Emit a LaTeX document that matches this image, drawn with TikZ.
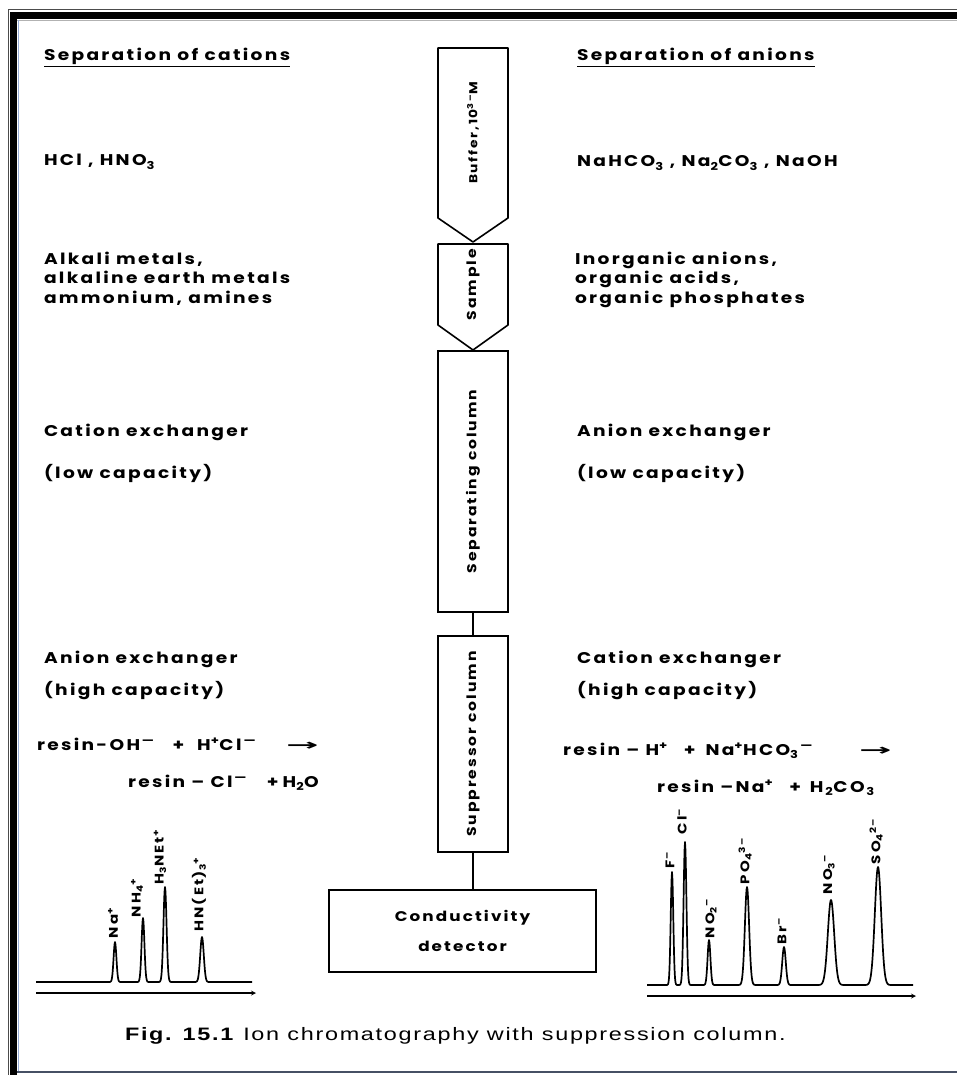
\documentclass[tikz,border=0pt]{standalone}
\usepackage{fontspec}
\setmainfont{Liberation Sans}
\newfontfamily\labfont{Poppins}[LetterSpace=15,FakeStretch=1.2]
\newfontfamily\capfont{Liberation Sans}[LetterSpace=9.5,FakeStretch=1.3]
\newfontfamily\arrfont{DejaVu Sans}[FakeStretch=1.8]
\newfontfamily\longarrfont{DejaVu Sans}[FakeStretch=2.5]
\newcommand{\yields}{{\arrfont\bfseries →}}
\newcommand{\longyields}{{\longarrfont\bfseries →}}
\usetikzlibrary{positioning,calc,arrows}
\definecolor{edgeblue}{RGB}{150,172,214}
\definecolor{slate}{RGB}{70,80,100}

\begin{document}
\begin{tikzpicture}
[
   x=1pt, y=-1pt,
   thick,
   declare function={pk(\px,\pc,\pw)=exp(-min(abs((\px-\pc)/\pw),6)^2);},
   every node/.style={inner sep=0pt, outer sep=0pt}
]

\tikzset{lab/.style = {font=\labfont\bfseries\fontsize{15.5}{19.5}\selectfont, anchor=base west, align=left}}
\tikzset{colbox/.style = {draw, line width=1.6pt, minimum width=70pt, font=\labfont\bfseries\fontsize{13}{15}\selectfont}}
\tikzset{pipe/.style = {line width=1.6pt, line join=round}}
\tikzset{peak/.style = {font=\labfont\bfseries\fontsize{12.5}{14}\selectfont, rotate=90, anchor=west}}
\tikzset{trace/.style = {line width=1.7pt, line join=round}}
\tikzset{axis/.style = {->, >=stealth, line width=1.2pt}}

\useasboundingbox (0,0) rectangle (957,1075);

% frame
\draw[line width=0.8pt, black!70] (957,9) -- (8,9) -- (8,1075);
\fill[black] (10,12) rectangle (957,19);
\fill[black] (10,12) rectangle (17,1075);
\draw[gray!60, line width=0.8pt] (17,20) -- (957,20);
\draw[edgeblue, line width=1.6pt] (18.5,20) -- (18.5,1071);
\draw[slate, line width=2pt] (17,1072) -- (957,1072);

% columns
\node[colbox, draw=none, minimum height=170pt, font=\labfont\bfseries\fontsize{11.5}{13}\selectfont] (buf) at (473,133) {\rotatebox{90}{Buffer,\,10\textsuperscript{3\textendash}M}};
\node[colbox, draw=none, minimum height=81pt] (smp) at (473,284.5) {\rotatebox{90}{Sample}};
\node[colbox, minimum height=261pt] (sep) at (473,481.5) {\rotatebox{90}{Separating column}};
\node[colbox, minimum height=216pt] (sup) at (473,744) {\rotatebox{90}{Suppressor column}};
\node[colbox, minimum width=267pt, minimum height=82pt, align=center,
      font=\labfont\bfseries\fontsize{14}{30}\selectfont] (det) at (462.5,931) {Conductivity\\detector};

\draw[pipe] (buf.north west) -- (buf.north east) -- (buf.south east)
   -- ([yshift=-24pt]buf.south) -- (buf.south west) -- cycle;
\draw[pipe] (smp.north west) -- (smp.north east) -- (smp.south east)
   -- ([yshift=-25pt]smp.south) -- (smp.south west) -- cycle;
\draw[pipe] (sep) -- (sup);
\draw[pipe] (sup.south) -- (sup.south |- det.north);

% cations
\node[lab] (ct) at (44,61) {\underline{Separation of cations}};
\node[lab] (ce) at (44,166) {HCl , HNO\textsubscript{3}};
\node[lab, anchor=north west] (cs) at (44,252) {Alkali metals,\\alkaline earth metals\\ammonium, amines};
\node[lab] (cx) at (44,436) {Cation exchanger};
\node[lab] (cx2) at (44,478) {(low capacity)};
\node[lab] (cy) at (44,663) {Anion exchanger};
\node[lab] (cy2) at (44,695) {(high capacity)};
\node[lab] (cr) at (37,750) {resin-OH\textsuperscript{\,\textemdash}\hspace{18pt}+\hspace{13pt}H\textsuperscript{+}C\,l\textsuperscript{\,\textemdash}\hspace{30pt}\longyields};
\node[lab] (cr2) at (128,787) {resin \textendash\ Cl\textsuperscript{\,\textemdash}\hspace{20pt}+\hspace{4pt}H\textsubscript{2}O};

% anions
\node[lab] (at) at (577,61) {\underline{Separation of anions}};
\node[lab] (ae) at (577,167) {NaHCO\textsubscript{3} , Na\textsubscript{2}CO\textsubscript{3} , NaOH};
\node[lab, anchor=north west] (as) at (575,252) {Inorganic anions,\\organic acids,\\organic phosphates};
\node[lab] (ax) at (577,436) {Anion exchanger};
\node[lab] (ax2) at (577,478) {(low capacity)};
\node[lab] (ay) at (577,663) {Cation exchanger};
\node[lab] (ay2) at (577,695) {(high capacity)};
\node[lab] (ar) at (563,755) {resin \textendash\ H\textsuperscript{+}\hspace{16pt}+\hspace{10pt}Na\textsuperscript{+}HCO\textsubscript{3}\textsuperscript{\,\textemdash}\hspace{46pt}\longyields};
\node[lab] (ar2) at (657,792) {resin \textendash Na\textsuperscript{+}\hspace{16pt}+\hspace{9pt}H\textsubscript{\,2}C\,O\textsubscript{\,3}};

% chromatogram, cations
\coordinate (l0) at (36,993);
\coordinate (l1) at (256,993);
\draw[axis] (l0) -- (l1);
\draw[trace] plot[domain=36:252, samples=433]
   (\x,{982-40*pk(\x,115,2)-64*pk(\x,143,2)-95*pk(\x,165,2.2)-45*pk(\x,202,2.5)});
\node[peak] (pna) at (113,938) {Na\textsuperscript{+}};
\node[peak] (pnh) at (137,917) {NH\textsubscript{4}\textsuperscript{+}};
\node[peak] (pne) at (160,884) {H\textsubscript{3}NEt\textsuperscript{+}};
\node[peak] (pte) at (199,931) {HN(Et)\textsubscript{3}\textsuperscript{+}};

% chromatogram, anions
\coordinate (r0) at (647,996);
\coordinate (r1) at (916,996);
\draw[axis] (r0) -- (r1);
\draw[trace] plot[domain=647:913, samples=533]
   (\x,{985-113*pk(\x,672,1.8)-143*pk(\x,685,2)-45*pk(\x,709,2)-98*pk(\x,747,3)
        -38*pk(\x,784,2.5)-85*pk(\x,831,4.5)-118*pk(\x,878,4.5)});
\node[peak] (pf) at (670,868) {F\textsuperscript{\textendash}};
\node[peak] (pcl) at (682,834) {Cl\textsuperscript{\textendash}};
\node[peak] (pno2) at (711,938) {NO\textsubscript{2}\textsuperscript{\textendash}};
\node[peak] (ppo) at (745,884) {PO\textsubscript{4}\textsuperscript{3\textendash}};
\node[peak] (pbr) at (782,944) {Br\textsuperscript{\textendash}};
\node[peak] (pno3) at (829,894) {NO\textsubscript{3}\textsuperscript{\textendash}};
\node[peak] (pso) at (876,864) {SO\textsubscript{4}\textsuperscript{2\textendash}};

% caption
\node[anchor=base west, font=\capfont\fontsize{18}{20}\selectfont] (cap) at (125,1040)
   {\textbf{Fig. 15.1} Ion chromatography with suppression column.};
\end{tikzpicture}
\end{document}
